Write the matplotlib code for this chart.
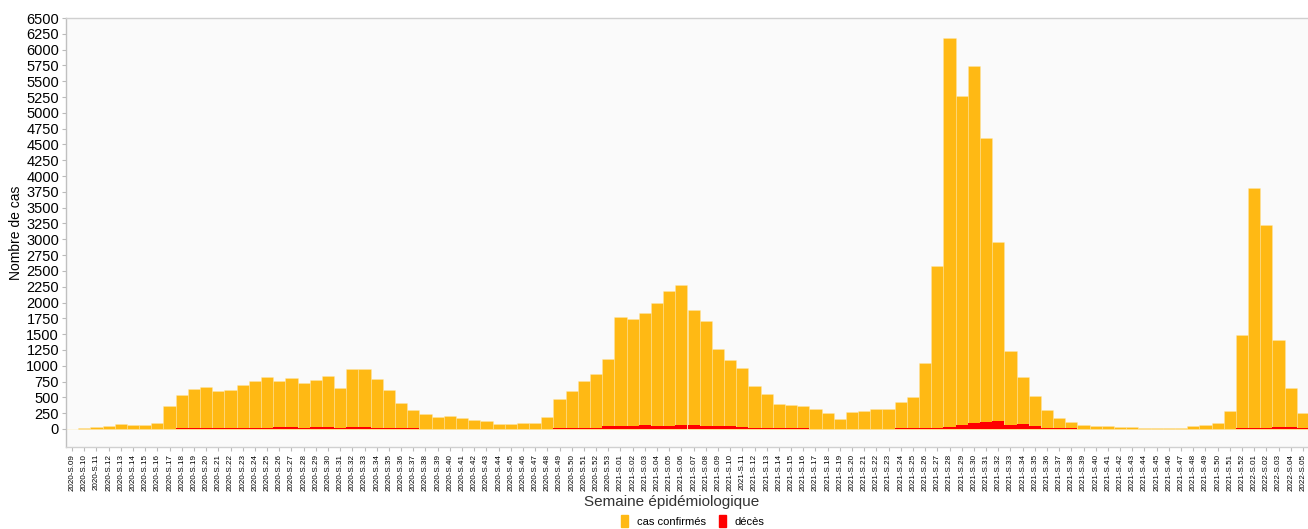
import matplotlib
matplotlib.use('Agg')
import matplotlib.pyplot as plt
from matplotlib.patches import Patch
import numpy as np

plt.rcParams['font.family'] = ['Liberation Sans', 'DejaVu Sans']

# weekly labels: 2020-S.09 .. 2022-S.05
weeks = ([f"2020-S.{w:02d}" for w in range(9, 54)]
         + [f"2021-S.{w:02d}" for w in range(1, 53)]
         + [f"2022-S.{w:02d}" for w in range(1, 6)])

cas_2020 = [0, 8, 30, 55, 85, 65, 65, 90,
            368, 538, 628, 669, 596, 617, 696, 764, 822, 754,
            812, 733, 775, 843, 643, 949, 944, 791, 612, 411,
            300, 237, 190, 211, 174, 142, 130, 75, 75, 95,
            100, 195, 474, 601, 759, 870, 1112]
cas_2021 = [1771, 1745, 1830, 1988, 2177, 2283, 1882, 1703, 1270, 1091,
            965, 680, 548, 390, 374, 358, 311, 258, 163, 274,
            285, 311, 318, 422, 501, 1039, 2578, 6189, 5267, 5736,
            4602, 2962, 1228, 822, 527, 300, 169, 105, 69, 53,
            42, 32, 26, 21, 15, 10, 21, 47, 69, 90,
            290, 1487]
cas_2022 = [3811, 3226, 1408, 653, 248]

deces_2020 = [0, 0, 0, 1, 2, 2, 2, 3,
              5, 8, 12, 12, 12, 12, 15, 20, 22, 25,
              28, 22, 25, 25, 22, 28, 25, 20, 15, 10,
              8, 6, 5, 5, 4, 4, 3, 3, 3, 3,
              4, 5, 8, 12, 20, 22, 40]
deces_2021 = [42, 55, 58, 50, 52, 65, 68, 55, 45, 45,
              32, 22, 12, 10, 8, 8, 6, 6, 5, 5,
              5, 6, 6, 8, 10, 15, 22, 32, 58, 100,
              110, 122, 68, 80, 42, 22, 12, 8, 6, 5,
              4, 3, 3, 2, 2, 2, 2, 3, 4, 5,
              6, 10]
deces_2022 = [12, 15, 25, 25, 10]

cas = cas_2020 + cas_2021 + cas_2022
deces = deces_2020 + deces_2021 + deces_2022

ORANGE = '#FFB914'
RED = '#FF0000'

fig = plt.figure(figsize=(13.08, 5.29), dpi=100)
ax = fig.add_axes([66 / 1308, 82 / 529, 1243 / 1308, 429 / 529])
ax.set_facecolor('#FAFAFA')

x = np.arange(len(weeks))
ax.bar(x, cas, width=1.0, color=ORANGE, edgecolor=(1, 0.92, 0.7, 0.6), linewidth=0.4)
ax.bar(x, deces, width=1.0, color=RED, linewidth=0)

ax.set_xlim(-0.5, len(weeks) - 0.5)
ax.set_ylim(-285, 6500)
ax.set_yticks(np.arange(0, 6501, 250))
ax.tick_params(axis='y', labelsize=10.5, length=3, color='#bbbbbb', pad=2)
ax.set_xticks(x)
ax.set_xticklabels(weeks, rotation=90, fontsize=5.8)
ax.tick_params(axis='x', length=3, color='#bbbbbb', pad=2)

for s in ax.spines.values():
    s.set_color('#d0d0d0')
    s.set_linewidth(1.0)
ax.spines['left'].set_color('#c0c0c0')

ax.set_ylabel("Nombre de cas", fontsize=10, labelpad=2)
fig.text(672 / 1308, 1 - 502 / 529, "Semaine épidémiologique",
         ha='center', va='center', fontsize=11, color='#333333')

handles = [Patch(color=ORANGE, label='cas confirmés'),
           Patch(color=RED, label='décès')]
fig.legend(handles=handles, loc='center', ncol=2, frameon=False,
           bbox_to_anchor=(693 / 1308, 1 - 521 / 529), fontsize=8,
           handlelength=0.6, handleheight=1.3, handletextpad=0.8,
           columnspacing=1.2)

fig.savefig('out.png', dpi=100)
